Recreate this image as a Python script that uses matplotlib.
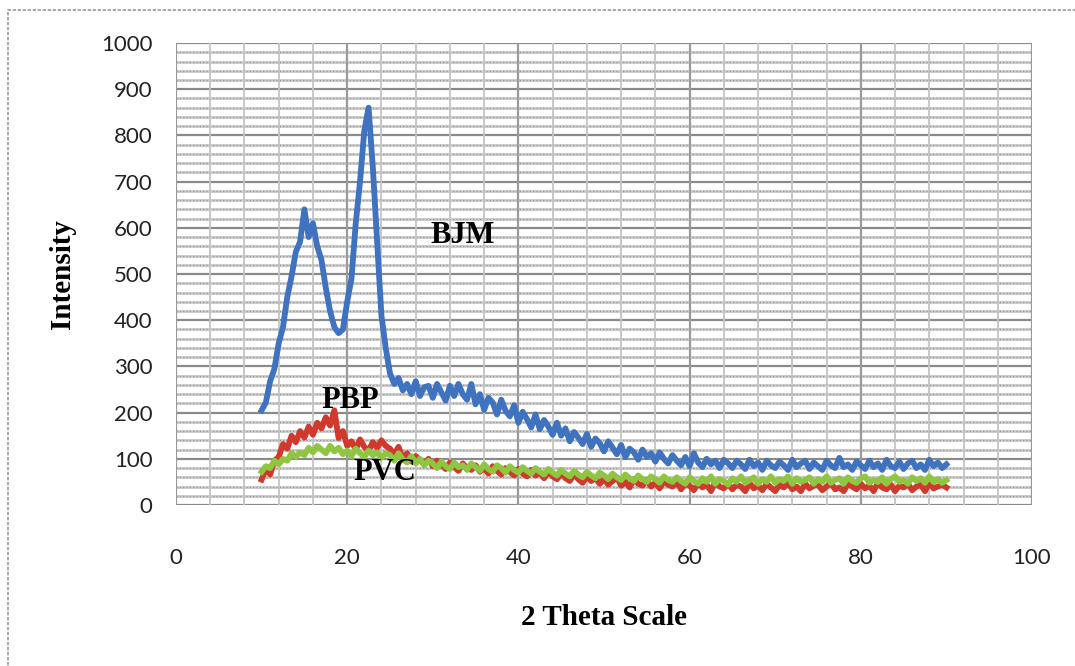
import matplotlib.pyplot as plt
import matplotlib.patches as mpatches
import numpy as np

# 2-theta positions (degrees), sampled every 0.5
two_theta = np.arange(10, 90.5, 0.5)

bjm = [205, 222, 268, 295, 350, 385, 450, 495, 548, 570,
       640, 580, 610, 560, 530, 470, 420, 385, 372, 380,
       440, 490, 610, 700, 810, 860, 730, 570, 410, 340,
       285, 262, 275, 248, 262, 240, 268, 236, 255, 258,
       232, 262, 244, 226, 258, 236, 262, 240, 228, 262,
       218, 240, 206, 232, 222, 196, 228, 204, 192, 216,
       178, 202, 186, 168, 196, 164, 184, 170, 152, 178,
       150, 166, 138, 158, 146, 132, 154, 126, 144, 134,
       116, 138, 124, 110, 130, 104, 122, 114, 98, 120,
       104, 112, 94, 114, 100, 90, 108, 96, 86, 104,
       84, 112, 92, 82, 100, 88, 96, 80, 98, 90,
       80, 96, 88, 78, 98, 84, 92, 76, 96, 86,
       80, 94, 86, 76, 98, 82, 90, 96, 78, 92,
       84, 76, 96, 86, 80, 102, 82, 88, 76, 94,
       86, 78, 96, 82, 90, 76, 98, 84, 80, 94,
       78, 90, 96, 80, 88, 76, 98, 84, 92, 80,
       88]

pbp = [55, 78, 66, 96, 104, 132, 122, 150, 136, 160,
       146, 170, 152, 178, 166, 190, 172, 205, 145, 160,
       128, 138, 120, 142, 126, 118, 136, 124, 140, 128,
       122, 110, 126, 100, 112, 94, 106, 98, 88, 100,
       84, 96, 88, 78, 92, 82, 74, 90, 80, 76,
       86, 72, 80, 68, 84, 74, 66, 80, 72, 64,
       78, 68, 62, 76, 64, 70, 58, 72, 62, 56,
       68, 58, 52, 66, 56, 48, 62, 52, 58, 46,
       56, 44, 52, 60, 42, 50, 38, 56, 46, 42,
       54, 40, 48, 36, 52, 44, 40, 50, 34, 46,
       42, 32, 48, 38, 44, 30, 50, 40, 36, 46,
       34, 44, 40, 30, 48, 36, 42, 32, 46, 38,
       30, 44, 38, 48, 34, 40, 30, 46, 36, 42,
       44, 32, 40, 48, 34, 38, 30, 46, 40, 34,
       46, 36, 42, 30, 48, 38, 34, 44, 30, 42,
       38, 46, 32, 40, 44, 30, 48, 36, 40, 44,
       38]

pvc = [72, 84, 80, 96, 88, 100, 96, 112, 104, 114,
       108, 124, 114, 128, 120, 112, 128, 116, 124, 110,
       118, 106, 122, 112, 104, 118, 108, 114, 102, 112,
       108, 96, 112, 98, 92, 106, 90, 100, 86, 96,
       90, 80, 94, 84, 78, 92, 82, 86, 76, 90,
       82, 74, 88, 78, 72, 86, 80, 70, 84, 76,
       70, 82, 74, 68, 80, 72, 66, 78, 70, 64,
       76, 68, 62, 74, 66, 60, 72, 64, 58, 70,
       64, 56, 68, 60, 54, 66, 58, 52, 64, 56,
       50, 62, 56, 48, 62, 54, 50, 60, 52, 46,
       60, 52, 46, 58, 50, 62, 46, 56, 52, 44,
       58, 50, 62, 48, 54, 60, 46, 56, 50, 62,
       48, 56, 52, 62, 46, 58, 50, 54, 60, 46,
       56, 50, 62, 48, 54, 58, 46, 60, 52, 48,
       58, 62, 48, 54, 50, 60, 46, 56, 62, 50,
       54, 46, 60, 52, 58, 48, 62, 50, 56, 48,
       54]

series_names = ['BJM', 'PBP', 'PVC']
series_colors = ['#3f72bf', '#d0392e', '#8fc641']

fig = plt.figure(figsize=(10.75, 6.66), dpi=100)
ax = fig.add_axes([0.1637, 0.2417, 0.7963, 0.6937])

# outer chart frame
fig.patches.append(mpatches.Rectangle((8 / 1075, -0.1), 1.2, 0.1 + 656 / 666,
                                      transform=fig.transFigure, fill=False,
                                      edgecolor='#9a9a9a', lw=1.2,
                                      linestyle=(0, (2, 1))))

# gridlines
for y in range(0, 1001, 20):
    if y % 100 == 0:
        ax.axhline(y, color='#8a8a8a', lw=1.6, zorder=1)
    else:
        ax.axhline(y, color='#cdcdcd', lw=2.2, zorder=1)
        ax.axhline(y, color='#8e8e8e', lw=0.8, linestyle=(0, (1, 2)), zorder=1)
for x in range(0, 101, 4):
    if x % 20 == 0:
        ax.axvline(x, color='#9a9a9a', lw=1.6, zorder=1)
    else:
        ax.axvline(x, color='#c4c4c4', lw=1.3, zorder=1)

for vals, color in zip([bjm, pbp, pvc], series_colors):
    ax.plot(two_theta, vals, color=color, lw=4.2, zorder=3)

ax.set_xlim(0, 100)
ax.set_ylim(0, 1000)
ax.set_xticks(range(0, 101, 20))
ax.set_yticks(range(0, 1001, 100))
ax.tick_params(length=0)
ax.tick_params(axis='x', pad=31)
ax.tick_params(axis='y', pad=17)
for lab in ax.get_xticklabels() + ax.get_yticklabels():
    lab.set_fontfamily('Lato')
    lab.set_fontsize(16)
    lab.set_color('#222222')
for s in ax.spines.values():
    s.set_visible(False)

ax.set_xlabel('2 Theta Scale', fontfamily='Liberation Serif', fontweight='bold',
              fontsize=21, labelpad=26)
ax.set_ylabel('Intensity', fontfamily='Liberation Serif', fontweight='bold',
              fontsize=21, labelpad=18)

label_pos = {'BJM': (33.5, 584), 'PBP': (20.3, 227), 'PVC': (24.4, 71)}
for name in series_names:
    x, y = label_pos[name]
    ax.text(x, y, name, fontfamily='Liberation Serif', fontweight='bold',
            fontsize=22, ha='center', va='center', zorder=5)

fig.savefig('out.png', dpi=100)
